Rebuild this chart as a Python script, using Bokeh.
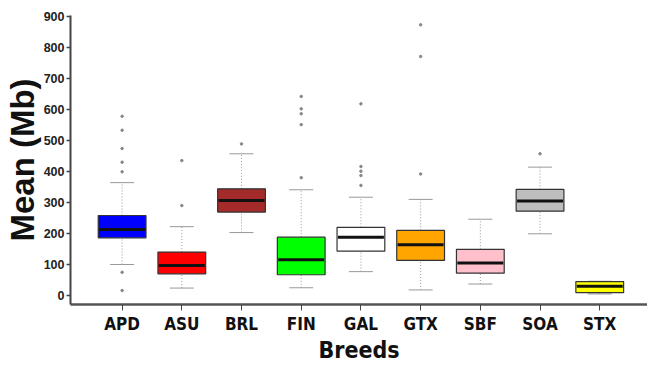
from bokeh.plotting import figure
from bokeh.models import ColumnDataSource, FixedTicker, Range1d
from bokeh.embed import file_html
from bokeh.resources import INLINE

breeds = ["APD", "ASU", "BRL", "FIN", "GAL", "GTX", "SBF", "SOA", "STX"]
q1 = [185, 69, 268, 66, 142, 112, 71, 271, 8]
median = [212, 96, 305, 114, 187, 163, 104, 304, 29]
q3 = [257, 139, 343, 187, 219, 209, 148, 341, 44]
lower = [99, 23, 202, 24, 76, 17, 36, 198, 4]
upper = [363, 221, 456, 340, 316, 309, 245, 413, 45]
colors = ["#0000FF", "#FF0000", "#A52A2A", "#00FF00", "#FFFFFF",
          "#FFA500", "#FFC0CB", "#BEBEBE", "#FFFF00"]
outliers = {
    "APD": [577, 532, 473, 429, 398, 74, 15],
    "ASU": [434, 289],
    "BRL": [488],
    "FIN": [641, 601, 585, 550, 379],
    "GAL": [617, 415, 400, 386, 354],
    "GTX": [872, 770, 391],
    "SBF": [],
    "SOA": [456],
    "STX": [],
}
y_ticks = [0, 100, 200, 300, 400, 500, 600, 700, 800, 900]

NARROW = "'DejaVu Sans Condensed', 'Liberation Sans Narrow', Roboto, sans-serif"

pos = list(range(1, len(breeds) + 1))
src = ColumnDataSource(dict(x=pos, q1=q1, med=median, q3=q3, lo=lower, up=upper, color=colors))

ox, oy = [], []
for i, b in enumerate(breeds):
    for v in outliers[b]:
        ox.append(pos[i])
        oy.append(v)

p = figure(width=647, height=367, output_backend="svg", toolbar_location=None,
           x_range=Range1d(0.1355, 9.80), y_range=Range1d(-30, 902),
           min_border_left=69, min_border_right=0, min_border_top=15, min_border_bottom=63)
p.outline_line_color = None
p.xgrid.visible = False
p.ygrid.visible = False
p.background_fill_color = "white"

# whiskers
p.segment("x", "q3", "x", "up", source=src, line_color="#999999", line_width=1, line_dash="1 2")
p.segment("x", "lo", "x", "q1", source=src, line_color="#999999", line_width=1, line_dash="1 2")
# caps
p.dash(x="x", y="up", size=24, source=src, line_color="#999999", line_width=1)
p.dash(x="x", y="lo", size=24, source=src, line_color="#999999", line_width=1)
# boxes
p.vbar(x="x", width=0.8, bottom="q1", top="q3", source=src, fill_color="color",
       line_color="#333333", line_width=1.2)
# medians
p.dash(x="x", y="med", size=46, source=src, line_color="#111111", line_width=3)
# outliers
p.scatter(ox, oy, size=2.5, color="#888888")

p.xaxis.ticker = FixedTicker(ticks=pos)
p.xaxis.major_label_overrides = {pos[i]: breeds[i] for i in range(len(breeds))}
p.xaxis.major_label_text_font = NARROW
p.xaxis.major_label_text_font_style = "bold"
p.xaxis.major_label_text_font_size = "17px"
p.xaxis.major_label_text_color = "#111111"
p.xaxis.major_label_standoff = 3
p.xaxis.axis_line_width = 2.5
p.xaxis.axis_line_color = "#555555"
p.xaxis.major_tick_out = 6
p.xaxis.major_tick_in = 0
p.xaxis.major_tick_line_color = "#444444"
p.xaxis.minor_tick_line_color = None
p.xaxis.axis_label = "Breeds"
p.xaxis.axis_label_text_font = NARROW
p.xaxis.axis_label_text_font_style = "bold"
p.xaxis.axis_label_text_font_size = "23px"
p.xaxis.axis_label_text_color = "#111111"
p.xaxis.axis_label_standoff = 0

p.yaxis.ticker = FixedTicker(ticks=y_ticks)
p.yaxis.major_label_text_font = "Liberation Sans"
p.yaxis.major_label_text_font_style = "bold"
p.yaxis.major_label_text_font_size = "12.5px"
p.yaxis.major_label_text_color = "#222222"
p.yaxis.major_label_standoff = 2
p.yaxis.axis_line_width = 2
p.yaxis.axis_line_color = "#444444"
p.yaxis.major_tick_out = 4
p.yaxis.major_tick_in = 0
p.yaxis.major_tick_line_width = 1.5
p.yaxis.major_tick_line_color = "#444444"
p.yaxis.minor_tick_line_color = None
p.yaxis.axis_label = "Mean (Mb)"
p.yaxis.axis_label_text_font = "Liberation Sans"
p.yaxis.axis_label_text_font_style = "bold"
p.yaxis.axis_label_text_font_size = "33px"
p.yaxis.axis_label_text_color = "#111111"
p.yaxis.axis_label_standoff = 0

open("out.html", "w").write(file_html(p, INLINE))
